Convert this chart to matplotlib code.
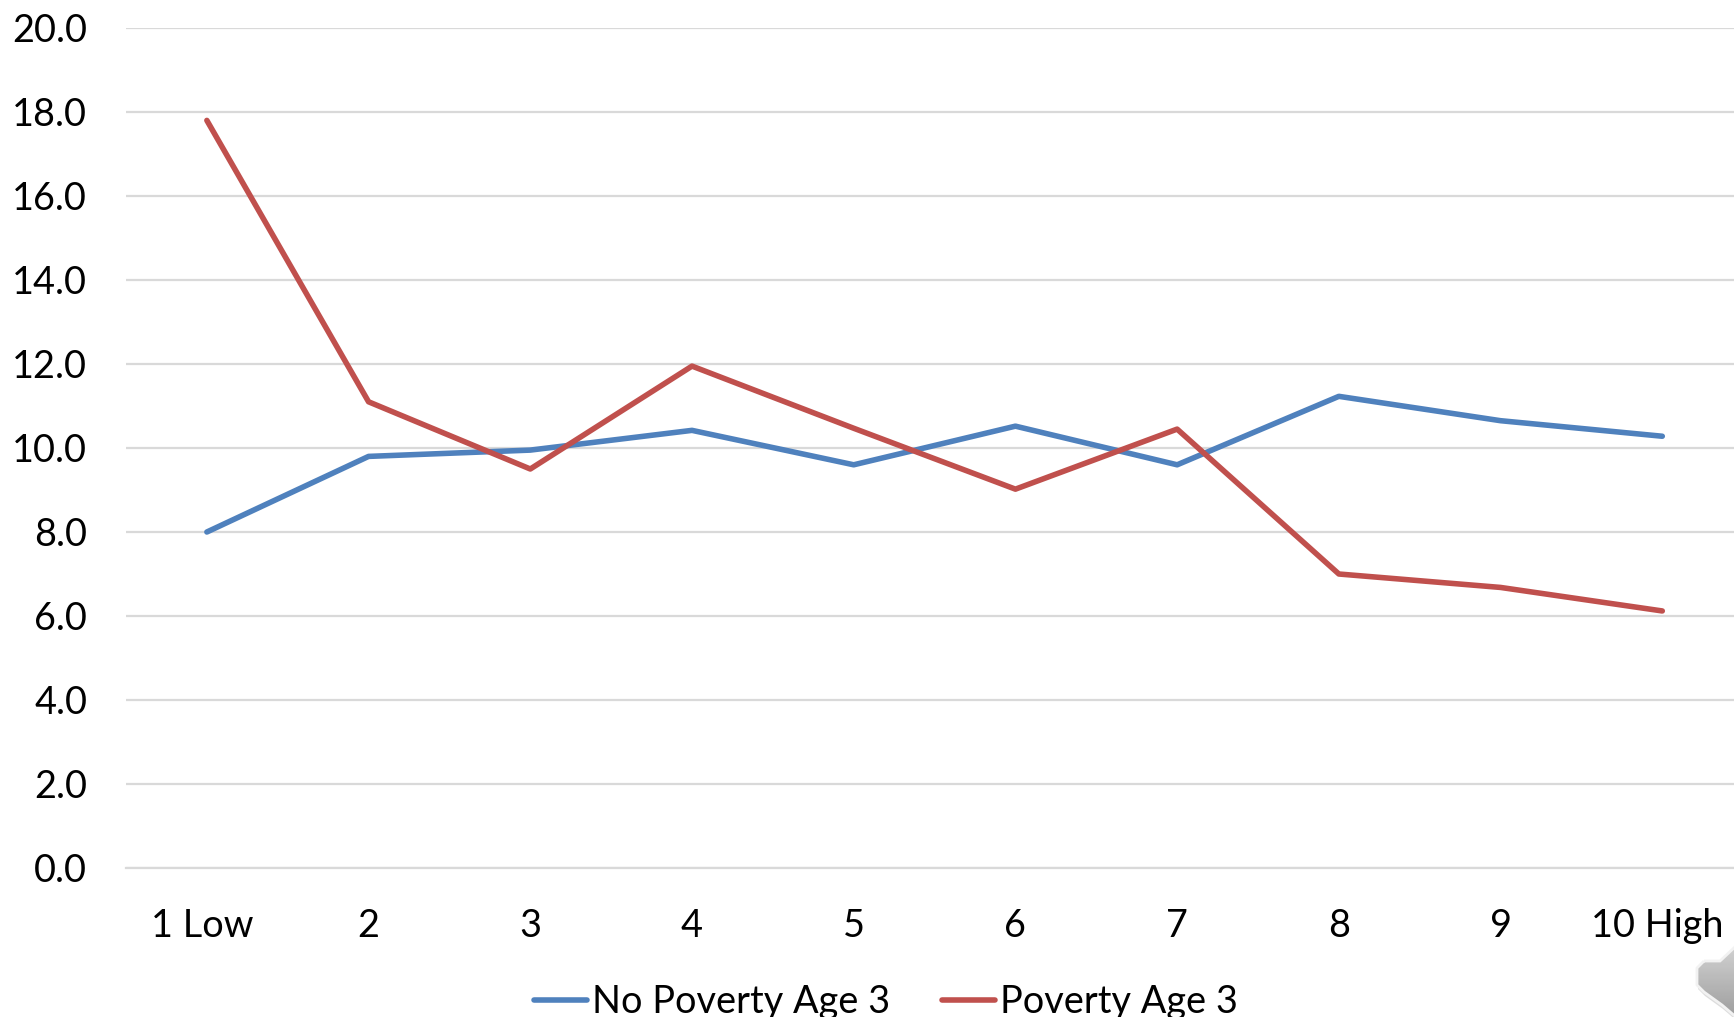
import numpy as np
import matplotlib
matplotlib.use("Agg")
import matplotlib.pyplot as plt
from matplotlib.patches import Polygon
from matplotlib.transforms import ScaledTranslation

plt.rcParams['font.family'] = ['Lato', 'DejaVu Sans']

categories = ['1 Low', '2', '3', '4', '5', '6', '7', '8', '9', '10 High']
no_poverty = [8.0, 9.8, 9.95, 10.42, 9.6, 10.52, 9.6, 11.23, 10.65, 10.28]
poverty = [17.8, 11.1, 9.5, 11.95, 10.47, 9.02, 10.45, 7.0, 6.68, 6.12]
yticks = [0, 2, 4, 6, 8, 10, 12, 14, 16, 18, 20]

W, H = 1734, 1017
fig = plt.figure(figsize=(W / 100, H / 100), dpi=100)
ax = fig.add_axes([126 / W, 1 - 868 / H, (W - 126) / W, (868 - 28) / H])

x = np.arange(len(categories))
ax.plot(x, no_poverty, color='#4f81bd', lw=4, solid_capstyle='round',
        solid_joinstyle='round', label='No Poverty Age 3', zorder=3)
ax.plot(x, poverty, color='#c0504d', lw=4, solid_capstyle='round',
        solid_joinstyle='round', label='Poverty Age 3', zorder=4)

ax.set_xlim(-0.5, (W - 207) / 161.7)
ax.set_ylim(0, 20)
ax.set_yticks(yticks)
ax.set_yticklabels(['%.1f' % v for v in yticks])
ax.set_xticks(x)
ax.set_xticklabels(categories)
ax.tick_params(axis='both', length=0, labelsize=27.3, labelcolor='black')
ax.tick_params(axis='y', pad=28)
ax.tick_params(axis='x', pad=29)
ax.grid(axis='y', color='#d9d9d9', lw=1.6)
ax.set_axisbelow(True)
for s in ax.spines.values():
    s.set_visible(False)
ax.spines['bottom'].set_visible(True)
ax.spines['bottom'].set_color('#d9d9d9')
ax.spines['bottom'].set_linewidth(1.6)

# the two wide end labels sit a little left of their category
shift = ScaledTranslation(-3.6 / 72, 0, fig.dpi_scale_trans)
for lab in (ax.get_xticklabels()[0], ax.get_xticklabels()[-1]):
    lab.set_transform(lab.get_transform() + shift)

# legend along the bottom edge
leg = fig.legend(loc='lower left', bbox_to_anchor=(534 / W, -3 / H), ncol=2, frameon=False,
                 fontsize=27.3, handlelength=1.41, handletextpad=0.12, columnspacing=1.36,
                 borderpad=0, borderaxespad=0)

# speaker icon in the corner, cut off by the figure edge
bg = fig.add_axes([0, 0, 1, 1], zorder=5)
bg.set_xlim(0, W)
bg.set_ylim(H, 0)
bg.axis('off')
bg.patch.set_alpha(0)
shape = [(1704, 961), (1720, 961), (1736, 946), (1736, 1017), (1722, 1005), (1704, 992), (1697, 985), (1697, 968)]
shadow = Polygon([(px + 1, py + 4) for px, py in shape], closed=True, fc='#bbbbbb', ec='none', alpha=0.5)
bg.add_patch(shadow)
icon = Polygon(shape, closed=True, fc='none', ec='#f2f2f2', lw=2, zorder=3)
bg.add_patch(icon)
grad = np.linspace(0.82, 0.62, 64).reshape(-1, 1)
im = bg.imshow(grad, cmap='gray', vmin=0, vmax=1, extent=(1695, 1736, 1017, 946), aspect='auto', zorder=2)
im.set_clip_path(Polygon(shape, closed=True, transform=bg.transData))
bg.set_xlim(0, W)
bg.set_ylim(H, 0)

fig.savefig('out.png', dpi=100)
